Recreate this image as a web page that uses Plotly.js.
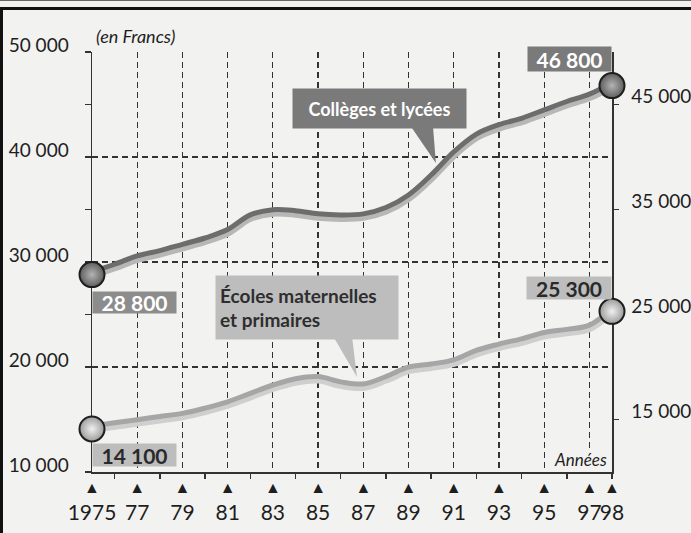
<!DOCTYPE html>
<html><head><meta charset="utf-8">
<script src="https://cdn.plot.ly/plotly-3.0.1.min.js"></script>
<style>
body{margin:0;background:#f2f2f0;}
#wrap{position:relative;width:691px;height:533px;overflow:hidden;}
#chart{width:691px;height:533px;}
.bar{position:absolute;background:#111;}
</style>
</head><body>
<div id="wrap"><div id="chart"></div>
<div class="bar" style="left:0;top:0;width:691px;height:1px;background:#666"></div>
<div class="bar" style="left:0;top:7px;width:691px;height:3px"></div>
<div class="bar" style="left:0;top:7px;width:3px;height:526px"></div>
</div>
<script>
// ---- data ----
const years = [1975,1976,1977,1978,1979,1980,1981,1982,1983,1984,1985,1986,1987,1988,1989,1990,1991,1992,1993,1994,1995,1996,1997,1998];
const colleges = [28800,29500,30300,30800,31400,32000,32800,34200,34700,34600,34300,34200,34300,34900,36100,38000,40200,41900,42800,43400,44200,45000,45700,46800];
const ecoles   = [14100,14400,14700,15000,15300,15800,16400,17200,18000,18600,18800,18300,18100,18800,19700,20000,20400,21300,21900,22400,23000,23300,23700,25300];
const seriesNames = ['Collèges et lycées', 'Écoles maternelles<br>et primaires'];
const labelYears = [1975,1977,1979,1981,1983,1985,1987,1989,1991,1993,1995,1997,1998];
const yearLabels = ['1975','77','79','81','83','85','87','89','91','93','95','97','98'];
const leftTicks = [10000,20000,30000,40000,50000];
const rightTicks = [15000,25000,35000,45000];
const unitTitle = '(en Francs)';
const xTitle = 'Années';

function fmt(v){ return String(v).replace(/\B(?=(\d{3})+(?!\d))/g, ' '); }

const yRange = [10000, 50000];
const plotH = 533 - 52 - 61;
const pxUnit = (yRange[1]-yRange[0]) / plotH;
const n = years.length - 1;
const ends = [years[0], years[n]];

const ink = '#1e1e1e';
const FONT = 'Lato, "Open Sans", sans-serif';

const traces = [
  {x: years, y: colleges, xaxis:'x', yaxis:'y', mode:'lines', line:{color:'#b7b7b7', width:8, shape:'spline', smoothing:1}},
  {x: years, y: ecoles,   xaxis:'x', yaxis:'y', mode:'lines', line:{color:'#cfcfcf', width:8, shape:'spline', smoothing:1}},
  {x: years, y: colleges, xaxis:'x', yaxis:'y2', mode:'lines', line:{color:'#6d6d6d', width:5, shape:'spline', smoothing:1}},
  {x: years, y: ecoles,   xaxis:'x', yaxis:'y2', mode:'lines', line:{color:'#a6a6a6', width:5, shape:'spline', smoothing:1}},
  {x: ends, y: [colleges[0], colleges[n]], xaxis:'x', yaxis:'y3', mode:'markers', cliponaxis:false,
   marker:{size:25, color:'#5e5e5e', gradient:{type:'radial', color:'#b4b4b4'}, line:{width:2, color:'#1e1e1e'}}},
  {x: ends, y: [ecoles[0], ecoles[n]], xaxis:'x', yaxis:'y3', mode:'markers', cliponaxis:false,
   marker:{size:25, color:'#9c9c9c', gradient:{type:'radial', color:'#f0f0f0'}, line:{width:2, color:'#1e1e1e'}}}
];

const darkBox = '#7a7a7a', midBox = '#8c8c8c', lightBox = '#bdbdbd';

const annotations = [
  {xref:'paper', yref:'paper', x:0, y:1, xanchor:'left', yanchor:'bottom', xshift:2, yshift:3, showarrow:false,
   text:'<i>'+unitTitle+'</i>', font:{family:FONT, size:18, color:ink}},
  {xref:'x', yref:'y', x:years[n], y:yRange[0], xanchor:'right', yanchor:'bottom', xshift:-4, yshift:1, showarrow:false,
   text:'<i>'+xTitle+'</i>', font:{family:FONT, size:17, color:ink}, bgcolor:'#f2f2f0', borderpad:0},
  // value labels
  {xref:'x', yref:'y', x:years[0], y:colleges[0], xanchor:'left', yanchor:'top', yshift:-16, showarrow:false,
   text:'<b>'+fmt(colleges[0])+'</b>', font:{family:FONT, size:21, color:'#ffffff'}, bgcolor:midBox, width:81, height:19, borderpad:1},
  {xref:'x', yref:'y', x:years[n], y:colleges[n], xanchor:'right', yanchor:'bottom', yshift:14, showarrow:false,
   text:'<b>'+fmt(colleges[n])+'</b>', font:{family:FONT, size:21, color:'#ffffff'}, bgcolor:darkBox, width:81, height:22, borderpad:1},
  {xref:'x', yref:'y', x:years[0], y:ecoles[0], xanchor:'left', yanchor:'top', yshift:-14, showarrow:false,
   text:'<b>'+fmt(ecoles[0])+'</b>', font:{family:FONT, size:21, color:'#2a2a2a'}, bgcolor:lightBox, width:81, height:20, borderpad:1},
  {xref:'x', yref:'y', x:years[n], y:ecoles[n], xanchor:'right', yanchor:'bottom', yshift:11, showarrow:false,
   text:'<b>'+fmt(ecoles[n])+'</b>', font:{family:FONT, size:21, color:'#2a2a2a'}, bgcolor:lightBox, width:82, height:20, borderpad:1},
  // callouts
  {xref:'x', yref:'y', x:1983.85, y:46571, xanchor:'left', yanchor:'top', showarrow:false,
   text:'<b>'+seriesNames[0]+'</b>', font:{family:FONT, size:18, color:'#ffffff'}, bgcolor:darkBox, width:165, height:31, borderpad:4},
  {xref:'x', yref:'y', x:1980.44, y:28762, xanchor:'left', yanchor:'top', showarrow:false, align:'left',
   text:'<b>'+seriesNames[1]+'</b>', font:{family:FONT, size:19, color:'#2e2e2e'}, bgcolor:lightBox, width:174, height:55, borderpad:4}
];

const shapes = [
  {type:'path', xref:'x', yref:'y', xsizemode:'pixel', ysizemode:'pixel', xanchor:1990.21, yanchor:39429,
   path:'M 0 0 L -26 38 L -3 38 Z', fillcolor:darkBox, line:{width:0}, layer:'above'},
  {type:'path', xref:'x', yref:'y', xsizemode:'pixel', ysizemode:'pixel', xanchor:1986.72, yanchor:19048,
   path:'M 0 0 L -24 41 L -5 41 Z', fillcolor:lightBox, line:{width:0}, layer:'above'}
];

const tickTextX = yearLabels.map(t => '<span style="font-size:16px">▲</span><br>' + t);

const layout = {
  width:691, height:533,
  margin:{l:92, r:79, t:52, b:61, pad:0},
  paper_bgcolor:'#f2f2f0', plot_bgcolor:'rgba(0,0,0,0)',
  showlegend:false, hovermode:false,
  font:{family:FONT, color:ink},
  xaxis:{range:[years[0], years[n]], tickmode:'array', tickvals:labelYears, ticktext:tickTextX, tickangle:0,
    ticks:'', showgrid:true, gridcolor:'#333', griddash:'6px,4px', gridwidth:1.2, layer:'below traces',
    showline:true, linecolor:'#333', linewidth:1.5, zeroline:false,
    tickfont:{family:FONT, size:21, color:ink}, ticklabelstandoff:-6,
    minor:{tick0:1976, dtick:2, ticks:'outside', ticklen:5, tickcolor:'#333', tickwidth:1.5, showgrid:false}},
  yaxis:{range:yRange, tickmode:'array', tickvals:leftTicks, ticktext:leftTicks.map(fmt),
    ticks:'outside', ticklen:6, tickcolor:'#333', tickwidth:1.5, layer:'below traces',
    showgrid:true, gridcolor:'#333', griddash:'6px,4px', gridwidth:1.2,
    showline:true, linecolor:'#333', linewidth:1.5, zeroline:false,
    tickfont:{family:FONT, size:19, color:ink}, ticklabelshift:-7, ticklabelstandoff:12,
    minor:{tick0:15000, dtick:10000, ticks:'outside', ticklen:6, tickcolor:'#333', tickwidth:1.5, showgrid:false}},
  yaxis2:{overlaying:'y', range:[yRange[0]-3*pxUnit, yRange[1]-3*pxUnit], visible:false},
  yaxis3:{overlaying:'y', side:'right', anchor:'x', range:yRange, tickmode:'array', tickvals:rightTicks,
    ticktext:rightTicks.map(fmt), ticks:'outside', ticklen:5, tickcolor:'#333', tickwidth:1.5, layer:'below traces',
    showline:true, linecolor:'#333', linewidth:1.5, showgrid:false, zeroline:false,
    tickfont:{family:FONT, size:19, color:ink}, ticklabelshift:-8, ticklabelstandoff:9},
  annotations: annotations,
  shapes: shapes
};

Plotly.newPlot('chart', traces, layout, {staticPlot:true, displayModeBar:false});
</script>
</body></html>
